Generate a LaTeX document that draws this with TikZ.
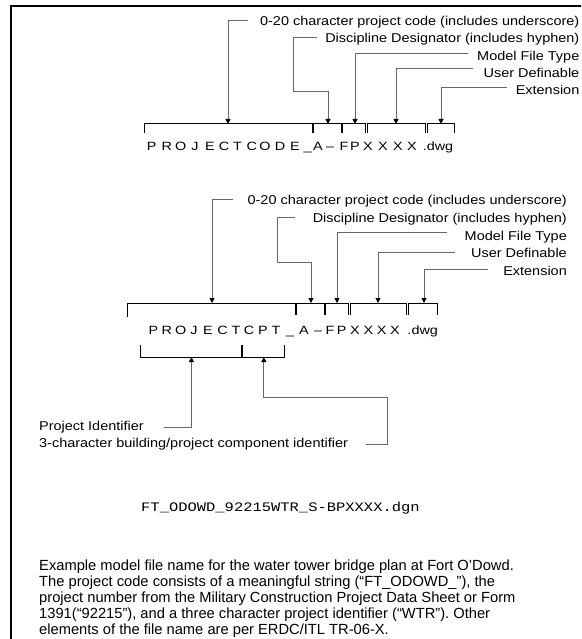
\documentclass[tikz,border=0pt]{standalone}
\usepackage{fontspec}
\setmainfont{Liberation Sans}
\newfontfamily\labfont[FakeStretch=1.13]{Liberation Sans}
\newfontfamily\codefont[FakeStretch=1.2]{Liberation Sans}
\newfontfamily\ttmono[FakeStretch=1.19]{Liberation Mono}
\usetikzlibrary{arrows.meta}
\begin{document}
\begin{tikzpicture}[x=1pt,y=-1pt,
  lab/.style={anchor=base east, inner sep=0pt, font=\labfont\fontsize{12.8}{14}\selectfont},
  labl/.style={anchor=base west, inner sep=0pt, font=\labfont\fontsize{12.8}{14}\selectfont},
  chr/.style={anchor=base, inner sep=0pt, font=\codefont\fontsize{12}{14}\selectfont},
  leader/.style={draw=black!60, line width=0.9pt},
  arr/.style={leader, -{Triangle[length=5pt,width=5pt,color=black]}},
  brk/.style={draw=black, line width=1pt},
  tickmark/.style={draw=black, line width=2pt},
  para/.style={anchor=base west, inner sep=0pt, font=\fontsize{14.7}{16}\selectfont},
]
\useasboundingbox (0,0) rectangle (581,639);
\clip (0,0) rectangle (581,639);
\fill[white] (0,0) rectangle (581,639);
% frame
\draw[line width=2pt] (11,660) -- (11,6) -- (600,6);

% ================= diagram 1 =================
\node[lab] (a1) at (579.5,25.5) {0-20 character project code (includes underscore)};
\node[lab] (a2) at (579.5,42.5) {Discipline Designator (includes hyphen)};
\node[lab] (a3) at (579.5,61) {Model File Type};
\node[lab] (a4) at (579.5,78) {User Definable};
\node[lab] (a5) at (579.5,95) {Extension};
% brackets
\draw[brk] (144,133) -- (144,124) -- (365,124) -- (365,133);
\draw[tickmark] (313,124) -- (313,133);
\draw[tickmark] (342,124) -- (342,133);
\draw[brk] (367,133) -- (367,124) -- (425,124) -- (425,133);
\draw[brk] (427,133) -- (427,124) -- (454,124) -- (454,133);
% leader coordinates
\coordinate (a1s) at (248,20.7);  \coordinate (a1t) at (228,124);
\coordinate (a2s) at (317,37.5);  \coordinate (a2k) at (293,91); \coordinate (a2t) at (328,124);
\coordinate (a3s) at (468,53);    \coordinate (a3t) at (355,124);
\coordinate (a4s) at (473,68.5);  \coordinate (a4t) at (396,124);
\coordinate (a5s) at (507,87);    \coordinate (a5t) at (441,124);
\draw[arr] (a1s) -| (a1t);
\draw[arr] (a2s) -| (a2k) -| (a2t);
\draw[arr] (a3s) -| (a3t);
\draw[arr] (a4s) -| (a4t);
\draw[arr] (a5s) -| (a5t);
% letters
\foreach \c/\x [count=\i] in {P/151.7,R/166.7,O/180.8,J/195,E/210,C/224,T/237.5,C/251.7,O/265,D/280,E/295,{\_}/307.5,A/318,–/330,F/344,P/355,X/368,X/383,X/398,X/412,.dwg/438}
  \node[chr] (ta\i) at (\x,151) {\c};

% ================= diagram 2 =================
\node[lab] (b1) at (567,204) {0-20 character project code (includes underscore)};
\node[lab] (b2) at (567,222) {Discipline Designator (includes hyphen)};
\node[lab] (b3) at (567,240) {Model File Type};
\node[lab] (b4) at (567,257.5) {User Definable};
\node[lab] (b5) at (567,275) {Extension};
\draw[brk] (127,317) -- (127,303) -- (348,303) -- (348,315);
\draw[tickmark] (296,303) -- (296,315);
\draw[tickmark] (325,303) -- (325,315);
\draw[brk] (350,315) -- (350,303) -- (406,303) -- (406,315);
\draw[brk] (408,315) -- (408,303) -- (437,303) -- (437,315);
\coordinate (b1s) at (233,199.5);  \coordinate (b1t) at (212,303);
\coordinate (b2s) at (295,217);    \coordinate (b2k) at (277,262); \coordinate (b2t) at (311,303);
\coordinate (b3s) at (447,232);    \coordinate (b3t) at (337,303);
\coordinate (b4s) at (455,252);    \coordinate (b4t) at (378,303);
\coordinate (b5s) at (488,269);    \coordinate (b5t) at (424,303);
\draw[arr] (b1s) -| (b1t);
\draw[arr] (b2s) -| (b2k) -| (b2t);
\draw[arr] (b3s) -| (b3t);
\draw[arr] (b4s) -| (b4t);
\draw[arr] (b5s) -| (b5t);
\foreach \c/\x [count=\i] in {P/153.3,R/166.7,O/180.8,J/194,E/208,C/222.5,T/236,C/249,P/263,T/276,{\_}/290,A/304,–/318,F/330,P/341.7,X/355,X/368.3,X/381.7,X/395,.dwg/422.7}
  \node[chr] (tb\i) at (\x,334) {\c};
% lower bracket
\draw[brk] (140,345) -- (140,357) -- (284,357) -- (284,345);
\draw[tickmark] (242,345) -- (242,357);
\node[labl] (c1) at (39,430) {Project Identifier};
\node[labl] (c2) at (39,447) {3-character building/project component identifier};
\coordinate (c1s) at (163.5,427);  \coordinate (c1t) at (191.4,357);
\coordinate (c2s) at (366,444.5);  \coordinate (c2k) at (387.6,397); \coordinate (c2t) at (263.8,357);
\draw[arr] (c1s) -| (c1t);
\draw[arr] (c2s) -| (c2k) -| (c2t);

% ================= example =================
\node[anchor=base west, inner sep=0pt, font=\ttmono\fontsize{13}{14}\selectfont] (ex) at (141,511) {FT\_ODOWD\_92215WTR\_S-BPXXXX.dgn};
\node[para] (p1) at (39,570) {Example model file name for the water tower bridge plan at Fort O’Dowd.};
\node[para] (p2) at (39,586) {The project code consists of a meaningful string (“FT\_ODOWD\_”), the};
\node[para] (p3) at (39,602) {project number from the Military Construction Project Data Sheet or Form};
\node[para] (p4) at (39,618) {1391(“92215"), and a three character project identifier (“WTR”). Other};
\node[para] (p5) at (39,634) {elements of the file name are per ERDC/ITL TR-06-X.};
\end{tikzpicture}
\end{document}
